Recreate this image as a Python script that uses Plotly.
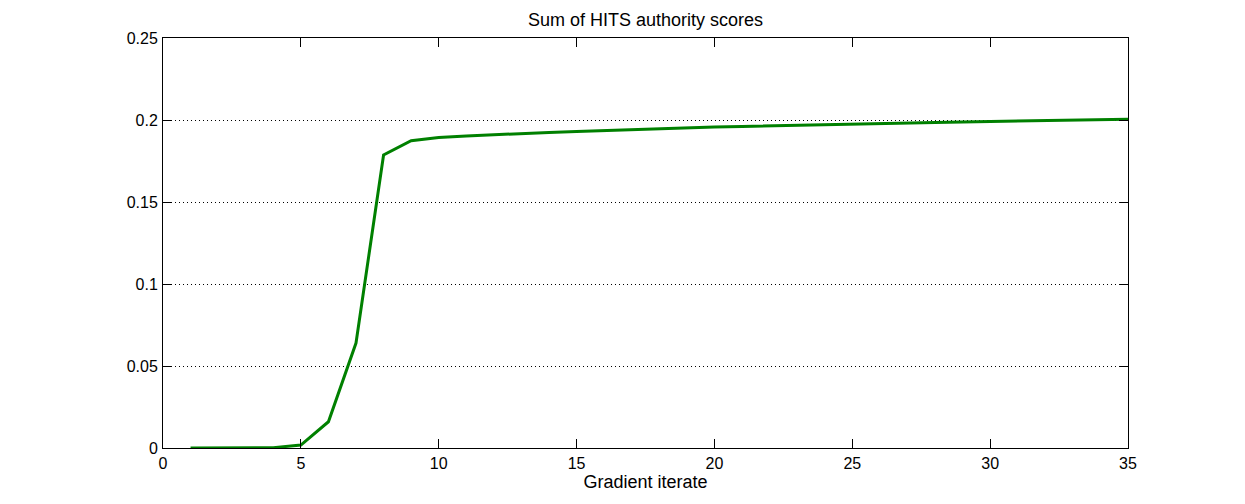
import plotly.graph_objects as go

iterations = list(range(1, 36))
authority_sum = [
    0.0000, 0.0000, 0.0001, 0.0002, 0.0018, 0.0160, 0.0640, 0.1787, 0.1874, 0.1893,
    0.1903, 0.1911, 0.1918, 0.1924, 0.1930, 0.1936, 0.1942, 0.1947, 0.1952, 0.1957,
    0.1961, 0.1965, 0.1969, 0.1973, 0.1976, 0.1979, 0.1982, 0.1985, 0.1988, 0.1991,
    0.1994, 0.1997, 0.1999, 0.2002, 0.2004,
]
x_ticks = [0, 5, 10, 15, 20, 25, 30, 35]
x_ticktext = ["0", "5", "10", "15", "20", "25", "30", "35"]
y_ticks = [0, 0.05, 0.1, 0.15, 0.2, 0.25]
y_ticktext = ["0", "0.05", "0.1", "0.15", "0.2", "0.25"]

font = dict(family="Liberation Sans, Arial, sans-serif", size=16, color="black")

fig = go.Figure()
fig.add_trace(go.Scatter(
    x=iterations, y=authority_sum, mode="lines",
    line=dict(color="rgb(0,128,0)", width=3),
    showlegend=False,
))

# page body has an 8px margin; offset margins so the plot area lands at 163..1128 x 38..448
fig.update_layout(
    width=1245, height=504,
    margin=dict(l=155, r=125, t=30, b=64),
    paper_bgcolor="white", plot_bgcolor="white",
    font=font,
    title=dict(text="Sum of HITS authority scores", x=0.5, xref="paper",
               y=1, yref="paper", yanchor="bottom", pad=dict(b=12),
               font=dict(size=18)),
)
fig.update_xaxes(
    range=[0, 35], tickvals=x_ticks, ticktext=x_ticktext,
    showline=True, linecolor="black", linewidth=1, mirror="ticks",
    ticks="inside", ticklen=9, tickcolor="black",
    showgrid=False, zeroline=False, ticklabelstandoff=1,
    title=dict(text="Gradient iterate", standoff=0, font=dict(size=18)),
)
fig.update_yaxes(
    range=[0, 0.25], tickvals=y_ticks, ticktext=y_ticktext,
    showline=True, linecolor="black", linewidth=1, mirror="ticks",
    ticks="inside", ticklen=9, tickcolor="black",
    showgrid=True, gridcolor="black", gridwidth=1, griddash="1px,3px",
    zeroline=False, ticklabelstandoff=1,
)

fig.write_html("out.html")
